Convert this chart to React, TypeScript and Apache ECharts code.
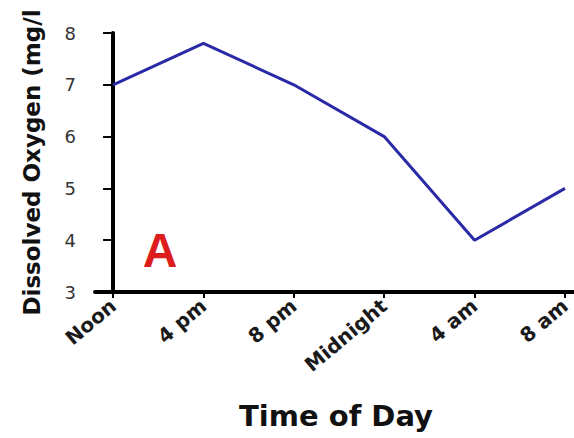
import React, { useEffect, useRef } from "react";
import * as echarts from "echarts";

const categories = ["Noon", "4 pm", "8 pm", "Midnight", "4 am", "8 am"];
const oxygen = [7.0, 7.8, 7.0, 6.0, 4.0, 5.0];
const yTicks = [3, 4, 5, 6, 7, 8];

const WIDE = "'DejaVu Sans', Verdana, sans-serif";
const ARIAL = "'Liberation Sans', Arial, sans-serif";

export default function App() {
  const ref = useRef<HTMLDivElement>(null);
  useEffect(() => {
    if (!ref.current) return;
    const chart = echarts.init(ref.current, null, { renderer: "svg" });
    const positions = categories.map((_, i) => i);
    chart.setOption({
      animation: false,
      backgroundColor: "#ffffff",
      grid: { left: 95, right: 0, top: 33, bottom: 146, containLabel: false },
      xAxis: {
        type: "value",
        min: -0.2,
        max: 5.1,
        splitLine: { show: false },
        axisLine: { lineStyle: { color: "#000", width: 4 } },
        axisTick: { show: true, customValues: positions, length: 6, lineStyle: { color: "#000", width: 2 } },
        axisLabel: {
          customValues: positions,
          formatter: (v: number) => categories[Math.round(v)] ?? "",
          rotate: 40,
          fontFamily: WIDE,
          fontWeight: "bold",
          fontSize: 20,
          color: "#1a1a1a",
          margin: 11,
        },
      },
      yAxis: {
        type: "value",
        min: 3,
        max: 8,
        interval: 1,
        splitLine: { show: false },
        axisLine: { show: true, lineStyle: { color: "#000", width: 4 } },
        axisTick: { show: true, length: 10, lineStyle: { color: "#000", width: 2 } },
        axisLabel: {
          formatter: (v: number) => (yTicks.includes(v) ? String(v) : ""),
          fontFamily: WIDE,
          fontSize: 18,
          color: "#333",
          margin: 19,
        },
        name: "Dissolved Oxygen (mg/l",
        nameLocation: "middle",
        nameGap: 52,
        nameTextStyle: { fontFamily: WIDE, fontWeight: "bold", fontSize: 23, color: "#111" },
      },
      graphic: [
        {
          type: "text",
          x: 336,
          y: 416,
          style: {
            text: "Time of Day",
            font: `bold 29px ${WIDE}`,
            fill: "#111",
            align: "center",
            verticalAlign: "middle",
          },
        },
        {
          type: "text",
          x: 160,
          y: 250,
          style: {
            text: "A",
            font: `bold 48px ${ARIAL}`,
            fill: "#dd1c1c",
            align: "center",
            verticalAlign: "middle",
          },
        },
      ],
      series: [
        {
          type: "line",
          data: oxygen.map((v, i) => [i, v]),
          symbol: "none",
          lineStyle: { color: "#2a2aa6", width: 3 },
        },
      ],
    });
    return () => chart.dispose();
  }, []);
  return (
    <div
      ref={ref}
      style={{ position: "absolute", left: 0, top: 0, width: 574, height: 438 }}
    />
  );
}
